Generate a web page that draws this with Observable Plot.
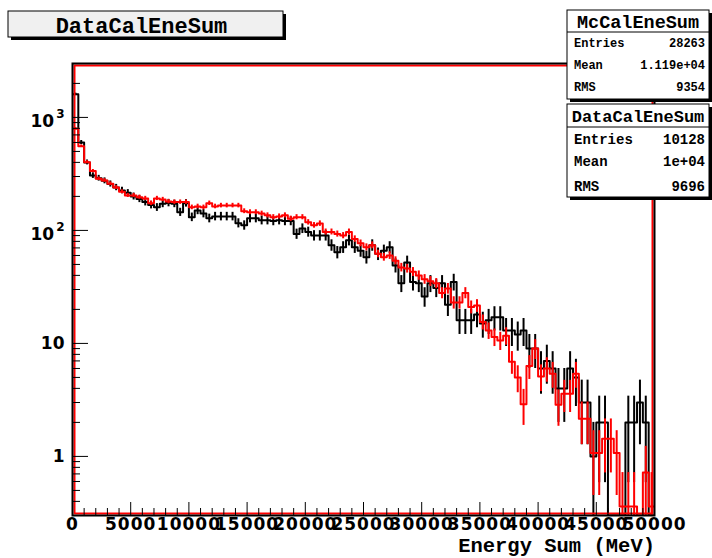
<!DOCTYPE html>
<html><head><meta charset="utf-8">
<script src="https://cdn.jsdelivr.net/npm/d3@7"></script>
<script src="https://cdn.jsdelivr.net/npm/@observablehq/plot@0.6"></script>
<style>
body{margin:0;background:#fff}
#chart{width:712px;height:558px}
</style>
</head><body><div id="chart"></div>
<script>
// ---- data (100 bins of 500 MeV, 0..50000 MeV) ----
const binWidth = 500;
const xDomain = [0, 50000];
const yDomain = [0.3, 3000];

// DataCalEneSum (black): counts per bin
const dataCounts = [
 1600, 600, 400, 306, 290, 275, 258, 240, 226, 215,
 200, 190, 178, 168, 160, 172, 175, 172, 145, 174,
 131, 150, 141, 128, 133, 133, 133, 133, 116, 111,
 128, 128, 123, 123, 121, 123, 121, 121, 93, 104,
 97, 90, 90, 90, 74, 64, 71, 82, 71, 66,
 58, 74, 62, 66, 71, 49, 34, 52, 35, 34,
 26, 34, 31, 34, 22, 35, 16, 16, 16, 18,
 15, 16, 17, 17, 13, 13, 12, 13, 9, 9,
 6, 7, 6, 4, 4, 6, 5, 3, 3, 1,
 2, 2, 0, 0, 0, 2, 2, 3, 2, 0
];
// McCalEneSum (red): normalised counts per bin
const mcCounts = [
 794, 557, 402, 335, 287, 277, 259, 240, 220, 204,
 204, 197, 192, 174, 192, 188, 180, 178, 178, 178,
 160, 163, 160, 174, 163, 166, 166, 166, 166, 148,
 145, 145, 141, 136, 131, 133, 136, 127, 131, 131,
 118, 111, 115, 97, 97, 93, 90, 97, 84, 77,
 71, 74, 62, 58, 60, 54, 47, 46, 43, 40,
 37, 35.5, 34, 28, 30.6, 23, 23, 28, 21, 21.6,
 15.5, 13, 11.4, 10.6, 11.7, 6.9, 5, 2.9, 6.3, 9,
 5.1, 6, 5.4, 2.86, 3.58, 3.58, 5.4, 2.15, 2.15, 1.07,
 1.07, 1.43, 1.43, 1.07, 0.36, 0.36, 0.36, 0, 0.72, 0.36
];

const mcEntries = 28263;
const dataEntries = 10128;

// axis ticks
const xTickValues = [0, 5000, 10000, 15000, 20000, 25000, 30000, 35000, 40000, 45000, 50000];
const xTickLabels = ["0", "5000", "10000", "15000", "20000", "25000", "30000", "35000", "40000", "45000", "50000"];
const xMinorTicks = [1000,2000,3000,4000,6000,7000,8000,9000,11000,12000,13000,14000,16000,17000,18000,19000,21000,22000,23000,24000,26000,27000,28000,29000,31000,32000,33000,34000,36000,37000,38000,39000,41000,42000,43000,44000,46000,47000,48000,49000];
const yTickValues = [1, 10, 100, 1000];
const yTickBases = ["1", "10", "10", "10"];
const yTickExps = ["", "", "2", "3"];
const yMinorTicks = [0.4,0.5,0.6,0.7,0.8,0.9,2,3,4,5,6,7,8,9,20,30,40,50,60,70,80,90,200,300,400,500,600,700,800,900,2000,3000];

// texts
const titleText = "DataCalEneSum";
const xTitle = "Energy Sum (MeV)";
const mcStats = [["Entries", "28263"], ["Mean", "1.119e+04"], ["RMS", "9354"]];
const dataStats = [["Entries", "10128"], ["Mean", "1e+04"], ["RMS", "9696"]];

// ---- derived tables ----
const yFloor = yDomain[0];
function steps(counts) {
  const pts = [];
  counts.forEach((v, i) => {
    const y = Math.max(v, yFloor);
    pts.push({x: i * binWidth, y}, {x: (i + 1) * binWidth, y});
  });
  return pts;
}
function errors(counts, varScale) {
  return counts.map((v, i) => ({x: (i + 0.5) * binWidth, v, e: Math.sqrt(v * varScale)}))
    .filter(d => d.v > 0)
    .map(d => ({x: d.x, y1: Math.max(d.v - d.e, yFloor), y2: d.v + d.e}));
}
const mcScale = dataEntries / mcEntries;
const dataErr = errors(dataCounts, 1);
const mcErr = errors(mcCounts, mcScale);

const W = 712, H = 558, mL = 72, mR = 58, mT = 63, mB = 43;
const fw = W - mL - mR, fh = H - mT - mB;

const tickFont = "'DejaVu Sans', sans-serif";
const monoFont = "'Liberation Mono', 'Courier New', monospace";

const chart = Plot.plot({
  width: W, height: H,
  marginLeft: mL, marginRight: mR, marginTop: mT, marginBottom: mB,
  x: {domain: xDomain, axis: null},
  y: {type: "log", domain: yDomain, axis: null},
  style: {background: "white", overflow: "visible"},
  marks: [
    Plot.ruleX(dataErr, {x: "x", y1: "y1", y2: "y2", stroke: "black", strokeWidth: 2, clip: true}),
    Plot.line(steps(dataCounts), {x: "x", y: "y", stroke: "black", strokeWidth: 2, clip: true}),
    Plot.ruleX(mcErr, {x: "x", y1: "y1", y2: "y2", stroke: "#ff0000", strokeWidth: 2, clip: true}),
    Plot.line(steps(mcCounts), {x: "x", y: "y", stroke: "#ff0000", strokeWidth: 2, clip: true}),
    Plot.frame({stroke: "#ff0000", strokeWidth: 2, inset: 2}),
    Plot.frame({stroke: "black", strokeWidth: 2}),
    Plot.ruleX(xTickValues, {x: d => d, insetTop: fh - 13, stroke: "black", strokeWidth: 1}),
    Plot.ruleX(xMinorTicks, {x: d => d, insetTop: fh - 7, stroke: "black", strokeWidth: 1}),
    Plot.ruleY(yTickValues, {y: d => d, insetRight: fw - 16, stroke: "black", strokeWidth: 1}),
    Plot.ruleY(yMinorTicks, {y: d => d, insetRight: fw - 8, stroke: "black", strokeWidth: 1}),
    Plot.text(xTickValues, {x: d => d, frameAnchor: "bottom", text: (d, i) => xTickLabels[i],
      dy: 14, fontSize: 17, fontWeight: "bold", fontFamily: tickFont, fill: "black", className: "xlab"}),
    Plot.text(yTickValues, {y: d => d, frameAnchor: "left", text: (d, i) => yTickBases[i],
      textAnchor: "end", dx: -8, fontSize: 17, fontWeight: "bold", fontFamily: tickFont, fill: "black", className: "ylab"})
  ]
});
document.getElementById("chart").appendChild(chart);

const svg = d3.select(chart);
svg.selectAll(".xlab text").attr("letter-spacing", "1px");
// superscript exponents on the y tick labels
svg.selectAll(".ylab text").each(function(d, k) {
  const t = d3.select(this);
  const idx = yTickBases.indexOf(t.text()) >= 0 ? null : null;
});
{
  const texts = svg.selectAll(".ylab text").nodes();
  texts.forEach((node, k) => {
    const exp = yTickExps[k];
    if (exp) {
      const t = d3.select(node);
      t.attr("dx", null);
      const base = t.text();
      t.text(null);
      t.append("tspan").attr("dy", "4").text(base);
      t.append("tspan").attr("dy", "-9").attr("dx", "2").attr("font-size", 12).text(exp);
    }
  });
}

const g = svg.append("g").attr("text-anchor", "start");
// title box
g.append("rect").attr("x", 11).attr("y", 14).attr("width", 275).attr("height", 26).attr("fill", "black");
g.append("rect").attr("x", 8).attr("y", 11).attr("width", 275).attr("height", 26)
  .attr("fill", "#f0f0f0").attr("stroke", "black").attr("stroke-width", 1);
g.append("text").attr("x", 141.5).attr("y", 32.5).attr("text-anchor", "middle")
  .attr("font-family", monoFont).attr("font-weight", "bold").attr("font-size", 22).text(titleText);

// x title
g.append("text").attr("x", 655).attr("y", 552).attr("text-anchor", "end")
  .attr("font-family", monoFont).attr("font-weight", "bold").attr("font-size", 20.5).text(xTitle);

function statBox(y0, h, headerY, name, rows, headSize, rowSize, baselines, headBase) {
  g.append("rect").attr("x", 570).attr("y", y0 + 3).attr("width", 142).attr("height", h).attr("fill", "black");
  g.append("rect").attr("x", 567).attr("y", y0).attr("width", 142).attr("height", h)
    .attr("fill", "white").attr("stroke", "black").attr("stroke-width", 1);
  g.append("line").attr("x1", 567).attr("x2", 709).attr("y1", headerY).attr("y2", headerY)
    .attr("stroke", "black").attr("stroke-width", 1);
  g.append("text").attr("x", 638).attr("y", headBase).attr("text-anchor", "middle")
    .attr("font-family", monoFont).attr("font-weight", "bold").attr("font-size", headSize).text(name);
  rows.forEach((r, i) => {
    g.append("text").attr("x", 574).attr("y", baselines[i]).attr("text-anchor", "start")
      .attr("font-family", monoFont).attr("font-weight", "bold").attr("font-size", rowSize).text(r[0]);
    g.append("text").attr("x", 705).attr("y", baselines[i]).attr("text-anchor", "end")
      .attr("font-family", monoFont).attr("font-weight", "bold").attr("font-size", rowSize).text(r[1]);
  });
}
statBox(10, 89, 32, "McCalEneSum", mcStats, 18.5, 12, [47, 69, 91], 28);
statBox(104, 93, 127, "DataCalEneSum", dataStats, 17, 14, [144, 166, 190.5], 121.5);
</script>
</body></html>
